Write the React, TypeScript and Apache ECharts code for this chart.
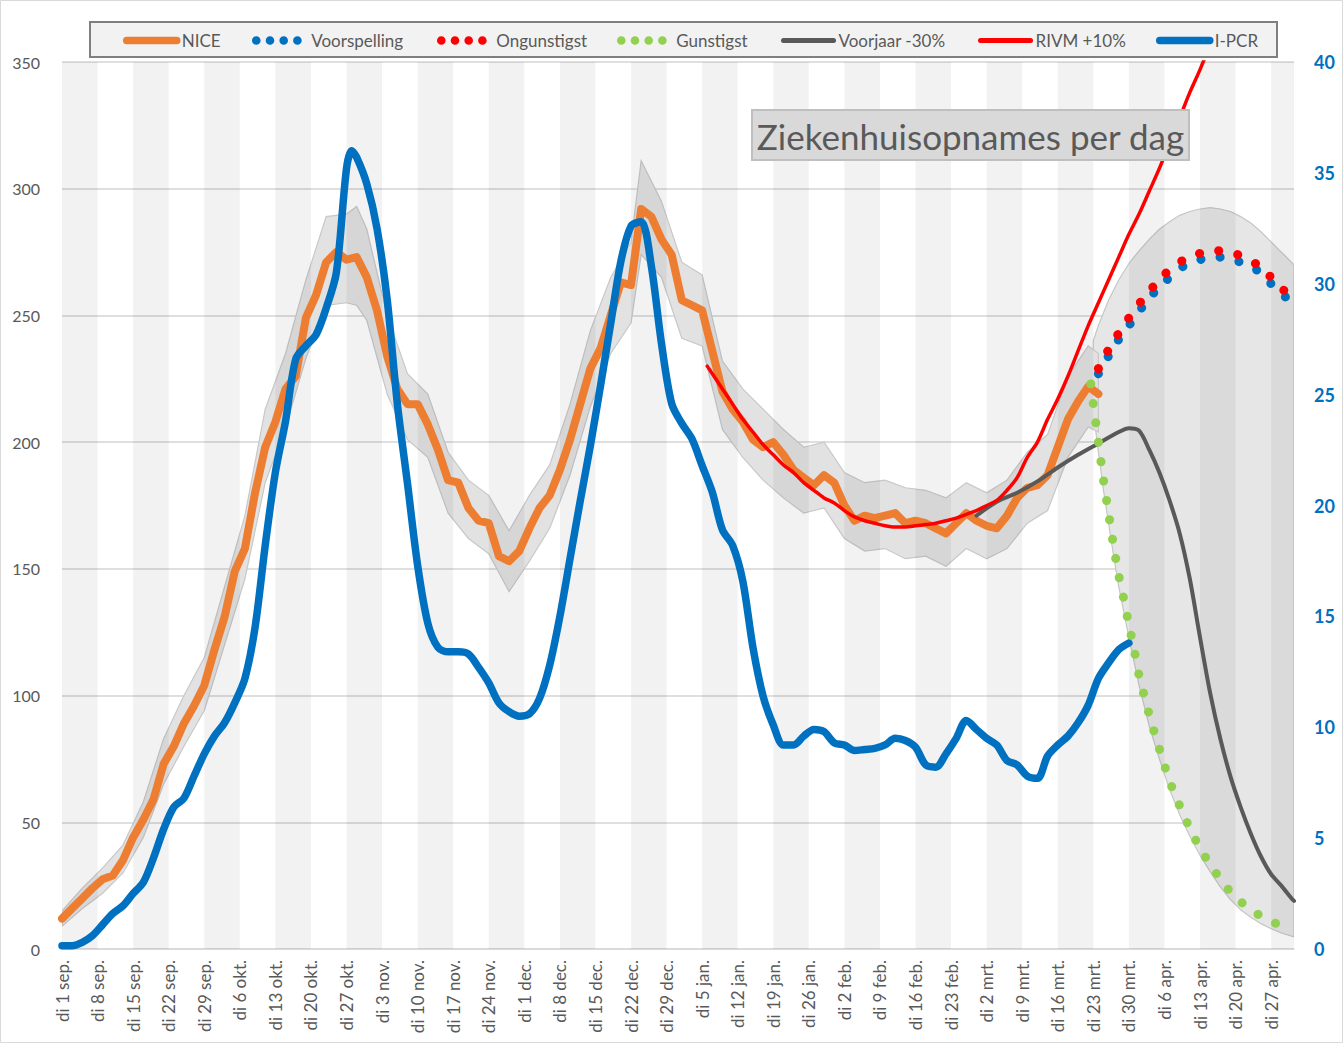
import React, { useEffect, useRef } from 'react';
import * as echarts from 'echarts';

// ---------- axis / tick data ----------
const X_MAX = 242.5; // day index of right plot edge (1 sep = 0)
const WEEK = 7;
const X_LABELS = [
  'di 1 sep.', 'di 8 sep.', 'di 15 sep.', 'di 22 sep.', 'di 29 sep.',
  'di 6 okt.', 'di 13 okt.', 'di 20 okt.', 'di 27 okt.',
  'di 3 nov.', 'di 10 nov.', 'di 17 nov.', 'di 24 nov.',
  'di 1 dec.', 'di 8 dec.', 'di 15 dec.', 'di 22 dec.', 'di 29 dec.',
  'di 5 jan.', 'di 12 jan.', 'di 19 jan.', 'di 26 jan.',
  'di 2 feb.', 'di 9 feb.', 'di 16 feb.', 'di 23 feb.',
  'di 2 mrt.', 'di 9 mrt.', 'di 16 mrt.', 'di 23 mrt.', 'di 30 mrt.',
  'di 6 apr.', 'di 13 apr.', 'di 20 apr.', 'di 27 apr.',
];
const LEFT_MAX = 350;
const LEFT_STEP = 50;
const RIGHT_MAX = 40;
const RIGHT_STEP = 5;

// ---------- series data: [dayIndex, value] ----------
const NICE: [number, number][] = [
  [0, 12], [2, 16], [4, 20], [6, 24], [8, 27.5], [10, 29], [12, 35], [14, 44], [16, 51], [18, 59],
  [20, 73], [22, 80], [24, 89], [26, 96], [28, 104], [30, 118], [32, 131], [34, 149], [36, 158], [38, 180],
  [40, 198], [42, 208], [44, 221], [46, 226], [48, 249], [50, 258], [52, 271], [54, 275], [56, 272], [58, 273],
  [60, 265], [62, 252], [64, 234], [66, 221], [68, 215], [70, 215], [72, 207], [74, 197], [76, 185], [78, 184],
  [80, 174], [82, 169], [84, 168], [86, 155], [88, 153], [90, 157], [92, 166], [94, 174], [96, 179], [98, 189],
  [100, 201], [102, 215], [104, 229], [106, 237], [108, 250], [110, 263], [112, 262], [114, 292], [116, 289], [118, 280],
  [120, 274], [122, 256], [124, 254], [126, 252], [128, 236], [130, 220], [132, 213], [134, 208], [136, 201], [138, 198],
  [140, 200], [142, 195], [144, 189], [146, 186], [148, 183], [150, 187], [152, 184], [154, 175], [156, 169], [158, 171],
  [160, 170], [162, 171], [164, 172], [166, 168], [168, 169], [170, 168], [172, 166], [174, 164], [176, 168], [178, 172],
  [180, 169], [182, 167], [184, 166], [186, 171], [188, 178], [190, 182], [192, 183], [194, 187], [196, 198], [198, 209],
  [200, 216], [202, 222], [204, 219],
];
const NICE_HI: [number, number][] = [
  [0, 15], [4, 24], [8, 32], [12, 41], [16, 58], [20, 83], [24, 100], [28, 115], [32, 143], [36, 171],
  [40, 213], [44, 235], [48, 264], [52, 289], [56, 290], [58, 293], [60, 284], [64, 250], [68, 227], [72, 219],
  [76, 196], [80, 185], [84, 179], [88, 165], [92, 179], [96, 191], [100, 215], [104, 244], [108, 265], [112, 279],
  [114, 311], [118, 295], [122, 271], [126, 266], [130, 232], [134, 221], [138, 213], [142, 205], [146, 198], [150, 200],
  [154, 188], [158, 184], [162, 185], [166, 182], [170, 181], [174, 178], [178, 184], [182, 180], [186, 185], [190, 196],
  [194, 203], [198, 226], [202, 238], [204, 235],
];
const NICE_LO: [number, number][] = [
  [0, 9], [4, 16], [8, 22], [12, 30], [16, 44], [20, 65], [24, 80], [28, 94], [32, 120], [36, 146],
  [40, 184], [44, 206], [48, 233], [52, 254], [56, 255], [58, 254], [60, 248], [64, 219], [68, 201], [72, 194],
  [76, 172], [80, 162], [84, 156], [88, 141], [92, 153], [96, 166], [100, 187], [104, 214], [108, 235], [112, 247],
  [114, 274], [118, 265], [122, 241], [126, 238], [130, 205], [134, 194], [138, 185], [142, 178], [146, 172], [150, 174],
  [154, 162], [158, 157], [162, 158], [166, 154], [170, 155], [174, 151], [178, 158], [182, 154], [186, 158], [190, 168],
  [194, 173], [198, 194], [202, 206], [204, 204],
];
const IPCR: [number, number][] = [
  [0, 0.15], [2, 0.15], [4, 0.3], [6, 0.6], [8, 1.1], [10, 1.6], [12, 1.95], [14, 2.5], [16, 3.0], [18, 4.1],
  [20, 5.4], [22, 6.4], [24, 6.8], [26, 7.8], [28, 8.8], [30, 9.6], [32, 10.2], [34, 11.1], [36, 12.2], [38, 14.5],
  [40, 18.2], [42, 21.5], [44, 23.8], [46, 26.6], [48, 27.2], [50, 27.7], [52, 28.9], [54, 30.5], [56, 35.2], [57, 36.0],
  [58, 35.7], [60, 34.5], [62, 32.5], [64, 29.3], [66, 24.6], [68, 21.0], [70, 17.3], [72, 14.7], [74, 13.6], [76, 13.4],
  [78, 13.4], [80, 13.3], [82, 12.7], [84, 12.0], [86, 11.1], [88, 10.7], [90, 10.5], [92, 10.6], [94, 11.3], [96, 12.8],
  [98, 15.0], [100, 17.6], [102, 20.2], [104, 22.7], [106, 25.4], [108, 28.2], [110, 31.0], [112, 32.6], [114, 32.8], [116, 30.8],
  [118, 27.3], [120, 24.6], [122, 23.7], [124, 23.0], [126, 21.8], [128, 20.6], [130, 18.9], [132, 18.2], [134, 16.6], [136, 13.6],
  [138, 11.4], [140, 10.1], [142, 9.2], [144, 9.2], [146, 9.6], [148, 9.9], [150, 9.8], [152, 9.3], [154, 9.2], [156, 8.95],
  [158, 9.0], [160, 9.05], [162, 9.2], [164, 9.5], [166, 9.4], [168, 9.1], [170, 8.3], [172, 8.2], [174, 8.8], [176, 9.5],
  [178, 10.3], [180, 9.9], [182, 9.5], [184, 9.2], [186, 8.5], [188, 8.3], [190, 7.8], [192, 7.7], [194, 8.7], [196, 9.2],
  [198, 9.6], [200, 10.2], [202, 11.0], [204, 12.2], [206, 12.9], [208, 13.5], [210, 13.8],
];
const RIVM: [number, number][] = [
  [127, 230], [130, 221], [132, 215], [134, 209], [136, 204], [138, 199], [140, 195], [142, 191], [144, 188], [146, 184],
  [148, 181], [150, 178], [152, 176], [154, 173], [156, 170.5], [158, 169], [160, 168], [162, 167], [164, 166.5], [166, 166.5],
  [168, 167], [170, 167.5], [172, 168], [174, 169], [176, 170], [178, 171.5], [180, 173], [182, 175], [184, 177], [186, 181],
  [188, 186], [190, 194], [192, 200], [194, 209], [196, 217], [198, 226], [200, 236], [202, 246], [204, 255], [206, 264],
  [208, 273], [210, 282], [212, 290], [214, 299], [216, 308], [218, 318], [220, 328], [222, 338], [224, 347], [226, 357],
];
const VOORJAAR: [number, number][] = [
  [180, 171], [184, 176.5], [188, 180], [192, 184.5], [196, 190], [200, 195], [204, 199.5], [208, 204], [210, 205.5], [212, 204.5],
  [214, 197], [216, 188], [218, 177], [220, 164], [222, 146], [224, 123], [226, 101], [228, 83], [230, 68], [232, 56],
  [234, 45.5], [236, 36.5], [238, 29.5], [240, 25], [242, 20], [242.5, 19],
];
const VOORSPELLING: [number, number][] = [
  [204, 227], [206, 234], [208, 240.5], [210, 246], [212, 251.5], [214, 257], [216, 261], [218, 265], [220, 268.5], [222, 270.5],
  [224, 272], [226, 273], [228, 273], [230, 272.3], [232, 271], [234, 269.5], [236, 266.5], [238, 262.5], [240, 259], [242, 254.5],
  [242.5, 253],
];
const ONGUNSTIGST: [number, number][] = [
  [204, 229], [206, 236.5], [208, 243], [210, 249], [212, 254.5], [214, 259.5], [216, 264], [218, 268], [220, 271], [222, 273],
  [224, 274.5], [226, 275.5], [228, 275.5], [230, 275], [232, 273.5], [234, 271.5], [236, 269], [238, 265], [240, 261], [242, 256.5],
];
const GUNSTIGST: [number, number][] = [
  [202.5, 223], [203, 215], [203.5, 207.5], [204, 200], [205, 185], [206, 172], [207, 159], [208, 147.5], [209, 138], [210, 128],
  [211, 118.5], [212, 108], [213, 100], [214, 92.5], [215, 85.5], [216, 79], [217, 72.5], [218, 66.5], [219, 61], [220, 56.5],
  [221, 52], [222, 47.5], [223, 43.5], [224, 40], [225, 36.5], [226, 33.5], [227, 30.5], [228, 27.5], [229, 25], [230, 22.5],
  [231, 20.5], [232, 18.7], [233, 17], [234, 15.5], [235, 14.2], [236, 13], [237, 12], [238, 11], [239, 10], [240, 9],
  [241, 8], [242, 7.3],
];
const FC_HI: [number, number][] = [
  [203, 240], [204, 246], [206, 256], [208, 264], [210, 270.5], [212, 275.5], [214, 280], [216, 284], [218, 287], [220, 289.5],
  [222, 291], [224, 292], [226, 292.5], [228, 292], [230, 291], [232, 289], [234, 286.5], [236, 283], [238, 279], [240, 275],
  [242.5, 270],
];
const FC_LO: [number, number][] = [
  [203, 212], [204, 196], [205, 181], [206, 168], [207, 155], [208, 143], [210, 123], [212, 104], [214, 88], [216, 75],
  [218, 63], [220, 53], [222, 44.5], [224, 37], [226, 30.5], [228, 24.5], [230, 19.5], [232, 15.5], [234, 12.5], [236, 10],
  [238, 8], [240, 6.3], [242.5, 4.8],
];

const FONT = 'Lato, Calibri, "Open Sans", sans-serif';
const C_ORANGE = '#ed7d31';
const C_BLUE = '#0070c0';
const C_RED = '#ff0000';
const C_GREEN = '#92d050';
const C_GREY = '#595959';
const TXT = '#595959';

function bandSeries(name: string, hi: [number, number][], lo: [number, number][], fill: string, stroke: string) {
  return {
    type: 'custom',
    name,
    silent: true,
    clip: true,
    data: [[hi[0][0], hi[0][1]]],
    encode: { x: 0, y: 1 },
    renderItem: (_p: any, api: any) => {
      const pts = hi.map((p) => api.coord(p)).concat(lo.slice().reverse().map((p) => api.coord(p)));
      return { type: 'polygon', shape: { points: pts }, style: { fill, stroke, lineWidth: 1.2 } };
    },
  };
}

function stripeSeries() {
  const starts: number[][] = [];
  for (let s = 0; s < X_MAX; s += 2 * WEEK) starts.push([s, 0]);
  return {
    type: 'custom',
    name: 'weeks',
    silent: true,
    clip: true,
    data: starts,
    encode: { x: 0, y: 1 },
    renderItem: (_p: any, api: any) => {
      const s = api.value(0);
      const e = Math.min(s + WEEK, X_MAX);
      const a = api.coord([s, LEFT_MAX]);
      const b = api.coord([e, 0]);
      return {
        type: 'rect',
        shape: { x: a[0], y: a[1], width: b[0] - a[0], height: b[1] - a[1] },
        style: { fill: 'rgba(0,0,0,0.052)' },
      };
    },
  };
}

function legendItem(name: string, left: number, width: number, dotted: boolean) {
  return {
    data: [name],
    left,
    top: 32,
    padding: 0,
    itemWidth: 50,
    itemHeight: 14,
    selectedMode: false,
    textStyle: { color: TXT, fontSize: 17, fontFamily: FONT },
    itemStyle: { color: 'rgba(0,0,0,0)', borderWidth: 0, borderColor: 'rgba(0,0,0,0)' },
    lineStyle: { width, type: dotted ? [0.1, 13.6] : 'solid', cap: 'round' },
  };
}

export default function App() {
  const ref = useRef<HTMLDivElement>(null);
  useEffect(() => {
    const chart = echarts.init(ref.current!, null, { renderer: 'svg' });
    const option: any = {
      animation: false,
      backgroundColor: '#ffffff',
      grid: { left: 62, right: 49, top: 62, bottom: 94, containLabel: false },
      legend: [
        legendItem('NICE', 123, 7.5, false),
        legendItem('Voorspelling', 252, 8.5, true),
        legendItem('Ongunstigst', 437, 8.5, true),
        legendItem('Gunstigst', 617, 8.5, true),
        legendItem('Voorjaar -30%', 781, 5, false),
        legendItem('RIVM +10%', 978, 5, false),
        legendItem('I-PCR', 1156, 7.5, false),
      ],
      xAxis: {
        type: 'value',
        min: 0,
        max: X_MAX,
        interval: WEEK,
        axisLine: { show: true, lineStyle: { color: '#d9d9d9', width: 1.5 } },
        axisTick: { show: false },
        splitLine: { show: false },
        axisLabel: {
          rotate: 90,
          margin: 11,
          color: TXT,
          fontSize: 17,
          fontFamily: FONT,
          formatter: (v: number) => {
            const i = Math.round(v / WEEK);
            return Math.abs(v - i * WEEK) < 1e-6 && X_LABELS[i] ? X_LABELS[i] : '';
          },
        },
      },
      yAxis: [
        {
          type: 'value',
          min: 0,
          max: LEFT_MAX,
          interval: LEFT_STEP,
          axisLine: { show: false },
          axisTick: { show: false },
          splitLine: { show: true, lineStyle: { color: '#d4d4d4', width: 1.5 } },
          axisLabel: { color: TXT, fontSize: 16, fontFamily: FONT, margin: 22 },
        },
        {
          type: 'value',
          min: 0,
          max: RIGHT_MAX,
          interval: RIGHT_STEP,
          position: 'right',
          axisLine: { show: false },
          axisTick: { show: false },
          splitLine: { show: false },
          axisLabel: { color: C_BLUE, fontSize: 18, fontWeight: 'bold', fontFamily: FONT, margin: 20 },
        },
      ],
      series: [
        bandSeries('band-forecast', FC_HI, FC_LO, '#e6e6e6', '#c6c6c6'),
        bandSeries('band-nice', NICE_HI, NICE_LO, '#e2e2e2', '#c8c8c8'),
        stripeSeries(),
        {
          type: 'line', name: 'NICE', data: NICE, symbol: 'none', yAxisIndex: 0,
          lineStyle: { color: C_ORANGE, width: 8, cap: 'round', join: 'round' },
          itemStyle: { color: C_ORANGE },
        },
        {
          type: 'line', name: 'Voorjaar -30%', data: VOORJAAR, symbol: 'none', smooth: 0.3,
          lineStyle: { color: C_GREY, width: 4, cap: 'round', join: 'round' },
          itemStyle: { color: C_GREY },
        },
        {
          type: 'line', name: 'RIVM +10%', data: RIVM, symbol: 'none', smooth: 0.3,
          lineStyle: { color: C_RED, width: 3.5, cap: 'round', join: 'round' },
          itemStyle: { color: C_RED },
        },
        {
          type: 'line', name: 'Voorspelling', data: VOORSPELLING, symbol: 'none', smooth: 0.4,
          lineStyle: { color: C_BLUE, width: 9, type: [0.1, 19.5], cap: 'round' },
          itemStyle: { color: C_BLUE },
        },
        {
          type: 'line', name: 'Ongunstigst', data: ONGUNSTIGST, symbol: 'none', smooth: 0.4,
          lineStyle: { color: C_RED, width: 9, type: [0.1, 19.5], cap: 'round' },
          itemStyle: { color: C_RED },
        },
        {
          type: 'line', name: 'I-PCR', data: IPCR, symbol: 'none', yAxisIndex: 1, smooth: 0.3,
          lineStyle: { color: C_BLUE, width: 7.5, cap: 'round', join: 'round' },
          itemStyle: { color: C_BLUE },
        },
        {
          type: 'line', name: 'Gunstigst', data: GUNSTIGST, symbol: 'none', smooth: 0.3,
          lineStyle: { color: C_GREEN, width: 9, type: [0.1, 19.5], cap: 'round' },
          itemStyle: { color: C_GREEN },
        },
      ],
      graphic: [
        {
          type: 'rect', silent: true, z: -10,
          shape: { x: 0.5, y: 0.5, width: 1342, height: 1042 },
          style: { fill: 'none', stroke: '#d9d9d9', lineWidth: 1 },
        },
        {
          type: 'rect', silent: true, z: 0,
          shape: { x: 90, y: 22, width: 1187, height: 35 },
          style: { fill: '#f2f2f2', stroke: '#7f7f7f', lineWidth: 2 },
        },
        {
          type: 'group', z: 100, silent: true,
          children: [
            {
              type: 'rect', z: 100,
              shape: { x: 752, y: 110, width: 437, height: 50 },
              style: { fill: '#d9d9d9', stroke: '#bfbfbf', lineWidth: 2 },
            },
            {
              type: 'text', z: 101,
              x: 970.5, y: 136,
              style: {
                text: 'Ziekenhuisopnames per dag',
                font: `35px ${FONT}`,
                fill: TXT,
                align: 'center', verticalAlign: 'middle',
                textAlign: 'center', textVerticalAlign: 'middle',
              },
            },
          ],
        },
      ],
    };
    chart.setOption(option);
    return () => chart.dispose();
  }, []);
  return (
    <div
      ref={ref}
      style={{ position: 'fixed', left: 0, top: 0, width: 1343, height: 1043, background: '#fff' }}
    />
  );
}
